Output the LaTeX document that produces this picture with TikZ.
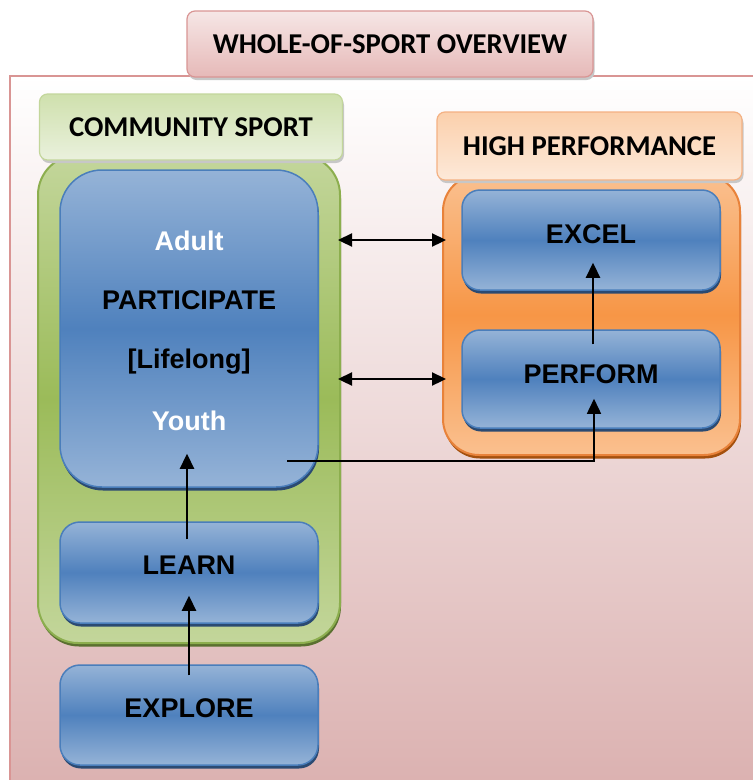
\documentclass[tikz,border=0pt]{standalone}
\usepackage{fontspec}
\setmainfont{Liberation Sans}
\newfontfamily\hdfont{Carlito}
\usetikzlibrary{shadows,arrows.meta,calc}
\definecolor{bluelight}{HTML}{95B3D7}
\definecolor{bluemid}{HTML}{4F81BD}
\definecolor{blueborder}{HTML}{4A7EBB}
\definecolor{blueshadow}{HTML}{2B4A72}
\definecolor{greenlight}{HTML}{C3D69B}
\definecolor{greenmid}{HTML}{9BBB59}
\definecolor{greenborder}{HTML}{8CAE4E}
\definecolor{greenshadow}{HTML}{5A7030}
\definecolor{orangelight}{HTML}{FAC08F}
\definecolor{orangemid}{HTML}{F79646}
\definecolor{orangeborder}{HTML}{E8823A}
\definecolor{orangeshadow}{HTML}{A4500E}
\definecolor{pinkborder}{HTML}{D99594}
\definecolor{pinkbottom}{HTML}{E6B9B8}
\definecolor{pinktop}{HTML}{F2DCDB}
\definecolor{ghdtop}{HTML}{CFE0AD}
\definecolor{ghdbot}{HTML}{EAF1DD}
\definecolor{ghdborder}{HTML}{C3D69B}
\definecolor{ohdtop}{HTML}{FBD0AC}
\definecolor{ohdbot}{HTML}{FDE9D9}
\definecolor{ohdborder}{HTML}{F4B183}
\tikzset{
  bluebox/.style={rounded corners=#1, draw=blueborder, line width=1.5pt,
    top color=bluelight, bottom color=bluelight, middle color=bluemid,
    general shadow={fill=blueshadow, shadow yshift=-3.5pt, shadow xshift=1pt}},
  hdbox/.style={rounded corners=8pt, line width=1.2pt, text=black,
    font=\hdfont\bfseries\fontsize{28.7}{34}\selectfont,
    general shadow={fill=black!22, shadow yshift=-3pt, shadow xshift=1.5pt}},
  boxtext/.style={font=\bfseries\fontsize{27}{32}\selectfont},
  arr/.style={line width=2.3pt, -{Triangle[length=15pt,width=14pt]}},
  dbl/.style={line width=2.3pt, {Triangle[length=14pt,width=13pt]}-{Triangle[length=14pt,width=13pt]}},
  conn/.style={line width=1.5pt, -{Triangle[length=15pt,width=14pt]}},
}
\begin{document}
\begin{tikzpicture}[x=1pt,y=-1pt]
\useasboundingbox (0,0) rectangle (753,780);
% outer frame
\draw[draw=pinkborder, line width=2pt, top color=white, bottom color=pinkbottom!95!black]
  (10,76) rectangle (775,800);
% title
\node[hdbox, draw=pinkborder, top color=pinktop!70!white, bottom color=pinkbottom,
  minimum width=406pt, minimum height=66pt] (title) at (390,44) {WHOLE-OF-SPORT OVERVIEW};
% community sport container
\node[rounded corners=40pt, draw=greenborder, line width=2pt,
  top color=greenlight, bottom color=greenlight, middle color=greenmid,
  general shadow={fill=greenshadow, shadow yshift=-3.5pt, shadow xshift=1pt},
  minimum width=302pt, minimum height=488pt] (green) at (189,399) {};
\node[hdbox, draw=ghdborder, top color=ghdtop, bottom color=ghdbot,
  minimum width=303pt, minimum height=66pt] (ghd) at (191,127) {COMMUNITY SPORT};
% participate
\node[bluebox=42pt, minimum width=258pt, minimum height=317pt] (part) at (189,328.5) {};
\node[boxtext, text=white] (adult) at (189,241) {Adult};
\node[boxtext] (participate) at (189,300) {PARTICIPATE};
\node[boxtext] (lifelong) at (189,362) {[Lifelong]};
\node[boxtext, text=white] (youth) at (189,421) {Youth};
\node[bluebox=20pt, minimum width=258pt, minimum height=101pt] (learn) at (189,572.5) {};
\node[boxtext] (learnt) at (189,565) {LEARN};
\node[bluebox=20pt, minimum width=258pt, minimum height=100pt] (explore) at (189,715) {};
\node[boxtext] (exploret) at (189,708) {EXPLORE};
% high performance container
\node[rounded corners=36pt, draw=orangeborder, line width=2pt,
  top color=orangelight, bottom color=orangelight, middle color=orangemid,
  general shadow={fill=orangeshadow, shadow yshift=-3.5pt, shadow xshift=1pt},
  minimum width=297pt, minimum height=280pt] (orange) at (591.5,315) {};
\node[hdbox, draw=ohdborder, top color=ohdtop, bottom color=ohdbot,
  minimum width=305pt, minimum height=68pt] (ohd) at (589.5,146) {HIGH PERFORMANCE};
\node[bluebox=18pt, minimum width=258pt, minimum height=100pt] (excel) at (591,240) {};
\node[boxtext] (excelt) at (591,234) {EXCEL};
\node[bluebox=18pt, minimum width=258pt, minimum height=98pt] (perform) at (591,379) {};
\node[boxtext] (performt) at (591,374) {PERFORM};
% connectors
\coordinate (ra) at (0,240);
\coordinate (rb) at (0,379);
\draw[dbl] ([xshift=-3pt]green.east |- ra) -- ([xshift=4pt]orange.west |- ra);
\draw[dbl] ([xshift=-3pt]green.east |- rb) -- ([xshift=4pt]orange.west |- rb);
\draw[arr] ([xshift=-2pt,yshift=-18pt]learn.north) -- ([xshift=-2pt,yshift=34pt]part.south);
\draw[arr] ([yshift=-11pt]explore.north) -- ([yshift=28pt]learn.south);
\draw[arr] ([xshift=2pt,yshift=-15pt]perform.north) -- ([xshift=2pt,yshift=28pt]excel.south);
\coordinate (yj) at (287,461);
\draw[conn] (yj) -| ([xshift=3pt,yshift=30pt]perform.south);
\end{tikzpicture}
\end{document}
